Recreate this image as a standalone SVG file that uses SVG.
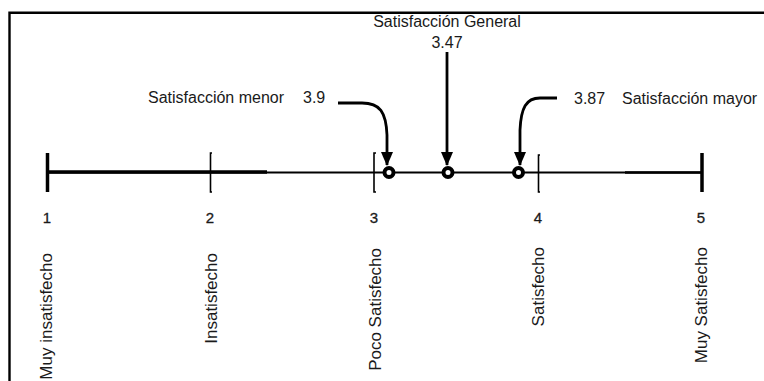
<svg xmlns="http://www.w3.org/2000/svg" width="764" height="381" viewBox="0 0 764 381">
<style>
.t{font-family:"Liberation Sans",Arial,sans-serif;font-size:16px;fill:#1a1a1a}
.n{font-family:"Liberation Sans",Arial,sans-serif;font-size:15px;fill:#1a1a1a;text-anchor:middle;stroke:#1a1a1a;stroke-width:0.3}
.r{font-family:"Liberation Sans",Arial,sans-serif;font-size:17px;fill:#1a1a1a;text-anchor:end}
.ln{stroke:#000;fill:none}
.arr{stroke:#000;stroke-width:2.8;fill:none;marker-end:url(#ah)}
.pt{fill:#fff;stroke:#000;stroke-width:4}
</style>
<defs>
<marker id="ah" markerUnits="userSpaceOnUse" viewBox="0 0 14 12" refX="13" refY="6" markerWidth="14" markerHeight="12" orient="auto">
<path d="M0,0 L14,6 L0,12 z" fill="#000"/>
</marker>
</defs>
<rect width="764" height="381" fill="#fff"/>
<g id="frame">
<path class="ln" stroke-width="2.4" d="M9.5,381 V12.8 H764"/>
</g>
<g id="axis">
<line class="ln" x1="47" y1="172.5" x2="703" y2="172.5" stroke-width="1.8"/>
<line class="ln" x1="47" y1="172" x2="267" y2="172" stroke-width="3.6"/>
<line class="ln" x1="625" y1="172.5" x2="703" y2="172.5" stroke-width="2.6"/>
<line class="ln" x1="47.5" y1="153" x2="47.5" y2="192" stroke-width="3.5"/>
<path class="ln" stroke-width="1.6" d="M212,153 H210.5 V192 H212"/>
<path class="ln" stroke-width="1.6" d="M376,153 H374 V192 H376"/>
<path class="ln" stroke-width="1.6" d="M540,155 H538.5 V192 H540"/>
<line class="ln" x1="702" y1="153" x2="702" y2="192" stroke-width="3.5"/>
</g>
<g id="ticks-labels">
<text class="n" x="47" y="223">1</text>
<text class="n" x="210" y="223">2</text>
<text class="n" x="374" y="223">3</text>
<text class="n" x="538" y="223">4</text>
<text class="n" x="701" y="223">5</text>
<text class="r" transform="translate(52,253) rotate(-90)">Muy insatisfecho</text>
<text class="r" transform="translate(217,253) rotate(-90)">Insatisfecho</text>
<text class="r" transform="translate(381,248) rotate(-90)">Poco Satisfecho</text>
<text class="r" transform="translate(544,247) rotate(-90)">Satisfecho</text>
<text class="r" transform="translate(707,247) rotate(-90)">Muy Satisfecho</text>
</g>
<g id="connectors">
<path class="arr" d="M338,103 H362 C380,103 386,112 387,135 V165"/>
<path class="arr" d="M447,52 V165"/>
<path class="arr" d="M557,98 H540 C526,98 521,108 520,130 V165"/>
</g>
<g id="node-menor">
<circle class="pt" cx="389" cy="172.5" r="4.5"/>
<text class="t" x="148" y="103">Satisfacción menor</text>
<text class="t" x="303" y="103">3.9</text>
</g>
<g id="node-general">
<circle class="pt" cx="448" cy="172.5" r="4.5"/>
<text class="t" x="447" y="27" text-anchor="middle">Satisfacción General</text>
<text class="t" x="447" y="48" text-anchor="middle">3.47</text>
</g>
<g id="node-mayor">
<circle class="pt" cx="518.5" cy="172.5" r="4.5"/>
<text class="t" x="574" y="104">3.87</text>
<text class="t" x="622" y="104">Satisfacción mayor</text>
</g>
</svg>
